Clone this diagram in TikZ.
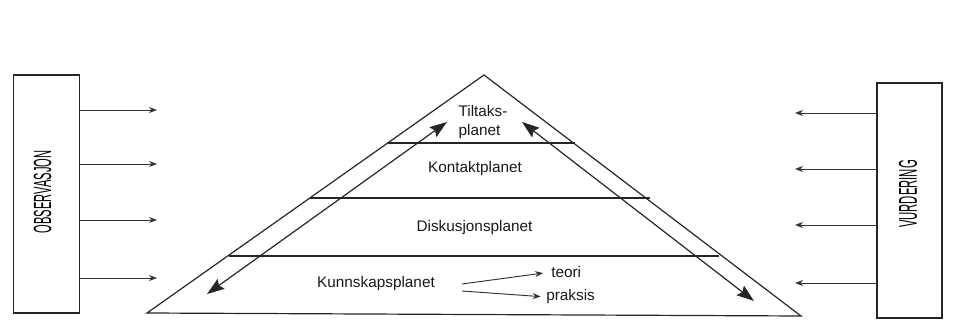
\documentclass[tikz,border=0pt]{standalone}
\usepackage{fontspec}
\setmainfont{Liberation Sans}
\usetikzlibrary{arrows.meta}
\begin{document}
\begin{tikzpicture}[x=0.75pt,y=-0.75pt,
  edge/.style={line width=0.9pt,draw=black!85},
  bigarr/.style={line width=0.9pt,draw=black!85,{Stealth[length=13pt,width=9pt,inset=2pt]}-{Stealth[length=13pt,width=9pt,inset=2pt]}},
  smallarr/.style={line width=0.7pt,draw=black!80,-{Stealth[length=6pt,width=4.5pt]}},
  sidebox/.style={draw=black!85,line width=0.9pt,inner sep=0pt},
  lbl/.style={font=\fontsize{11.5pt}{14pt}\selectfont,inner sep=0pt,text=black!90},
]
\useasboundingbox (0,0) rectangle (977,334);
% side boxes
\node[sidebox,minimum width=50pt,minimum height=178.5pt] (obs) at (46.5,194) {};
\node[sidebox,minimum width=48.75pt,minimum height=176.25pt] (vur) at (909.5,200.5) {};
\node[rotate=90,inner sep=0pt] (obstext) at (42.5,192) {\resizebox{62pt}{13pt}{OBSERVASJON}};
\node[rotate=90,inner sep=0pt] (vurtext) at (908,194) {\resizebox{51pt}{13.5pt}{VURDERING}};
% triangle
\coordinate (apex) at (484,75);
\coordinate (bl) at (147,313);
\coordinate (br) at (801,316);
\draw[edge] (bl) -- (apex) -- (br) -- cycle;
\coordinate (l1) at (388,143); \coordinate (r1) at (575,143);
\coordinate (l2) at (310,198); \coordinate (r2) at (650,198);
\coordinate (l3) at (229,256); \coordinate (r3) at (719,256);
\draw[edge] (l1) -- (r1);
\draw[edge] (l2) -- (r2);
\draw[edge] (l3) -- (r3);
% double arrows
\coordinate (a1s) at (207,294); \coordinate (a1e) at (447,122);
\coordinate (a2s) at (522,122); \coordinate (a2e) at (754,301);
\draw[bigarr] (a1s) -- (a1e);
\draw[bigarr] (a2s) -- (a2e);
% labels
\node[lbl,align=left] (tilt) at (483,122) {Tiltaks-\\planet};
\node[lbl] (kont) at (475,169) {Kontaktplanet};
\node[lbl] (disk) at (474.5,228) {Diskusjonsplanet};
\node[lbl] (kunn) at (376,284) {Kunnskapsplanet};
\node[lbl,anchor=west] (teori) at (551,272) {teori};
\node[lbl,anchor=west] (praksis) at (546,297) {praksis};
\coordinate (k1) at (462,284); \coordinate (k2) at (462,291);
\draw[smallarr,shorten >=6pt] (k1) -- (teori.west);
\draw[smallarr,shorten >=4pt] (k2) -- (praksis.west);
% left arrows
\foreach \yy/\n in {110/1,164/2,220/3,278/4}{
  \coordinate (oe\n) at (157,\yy);
  \draw[smallarr] (obs.east |- oe\n) -- (oe\n);
}
% right arrows
\foreach \yy/\n in {113/1,169/2,225/3,283/4}{
  \coordinate (ve\n) at (795,\yy);
  \draw[smallarr] (vur.west |- ve\n) -- (ve\n);
}
\end{tikzpicture}
\end{document}
